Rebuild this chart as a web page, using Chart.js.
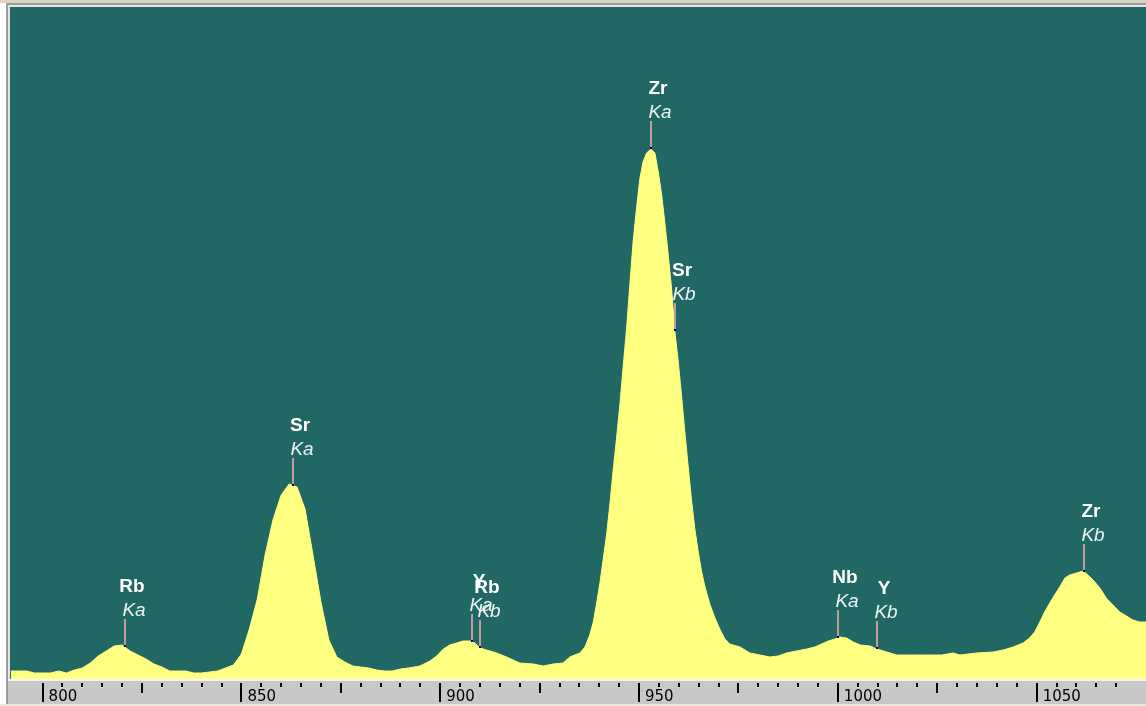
<!DOCTYPE html>
<html>
<head>
<meta charset="utf-8">
<script src="https://cdn.jsdelivr.net/npm/chart.js@4.4.0/dist/chart.umd.min.js"></script>
<style>
  html, body { margin: 0; padding: 0; background: #fff; overflow: hidden; }
  #spec { display: block; }
</style>
</head>
<body>
<canvas id="spec" width="1146" height="706"></canvas>
<script>
// Spectrum: channel position and counts
const energy = [
  792, 794, 796, 798, 800, 802, 804, 806, 808, 810,
  812, 814, 816, 818, 820, 822, 824, 826, 828, 830,
  832, 834, 836, 838, 840, 842, 844, 846, 848, 850,
  852, 854, 856, 858, 860, 862, 864, 866, 868, 870,
  872, 874, 876, 878, 880, 882, 884, 886, 888, 890,
  892, 894.9, 897.4, 899.1, 900.8, 902.4, 904.1, 905.8, 907.5, 908.7,
  910, 911.7, 914.2, 916.7, 920, 923.4, 925.9, 928.4, 930.9, 932.6,
  935.1, 936.4, 937.6, 938.5, 939.3, 940.2, 941, 941.9, 942.7, 943.5,
  944.4, 945.2, 946, 946.9, 947.7, 948.5, 949.4, 950.2, 951, 951.9,
  953, 954, 954.8, 955.7, 956.5, 957.3, 958.2, 959, 959.9, 960.7,
  961.5, 962.4, 963.2, 964, 964.9, 965.7, 966.6, 967.8, 969.1, 970.3,
  971.6, 972.8, 975.4, 977.9, 980.4, 982.9, 985, 987.1, 989.6, 992.2,
  994.2, 995.9, 997.6, 999.3, 1000.5, 1002.2, 1003.9, 1005.6, 1008.1, 1009.8,
  1012.3, 1014.8, 1018.2, 1022.3, 1026.1, 1029, 1030.7, 1034.9, 1039.1, 1041.6,
  1044.1, 1046.6, 1048.2, 1049.5, 1050.8, 1052, 1053.3, 1054.5, 1055.8, 1057.1,
  1058.3, 1060, 1061.7, 1062.9, 1064.2, 1065.9, 1067.5, 1069.2, 1070.9, 1072.6,
  1074.2, 1075.9, 1077.5
];
const counts = [
  8, 8, 8, 6, 6, 6, 8, 6, 9, 11,
  16, 23, 28, 33, 34, 28, 24, 20, 15, 12,
  8, 8, 8, 6, 6, 7, 8, 11, 14, 25,
  50, 80, 125, 160, 184, 195, 192, 170, 124, 77,
  39, 22, 17, 13, 12, 11, 9, 8, 8, 10,
  11, 13, 18, 23, 30, 34, 36, 38, 38, 36,
  31, 29, 26, 22, 16, 15, 13, 15, 16, 22,
  26, 32, 44, 57, 75, 97, 120, 146, 176, 209,
  243, 275, 312, 352, 395, 437, 472, 500, 517, 526,
  530, 526, 508, 484, 456, 426, 390, 348, 316, 283,
  248, 211, 179, 151, 127, 108, 92, 75, 61, 50,
  40, 35, 32, 26, 24, 22, 23, 26, 28, 30,
  32, 35, 38, 40, 42, 41, 37, 34, 33, 30,
  27, 24, 24, 24, 24, 26, 24, 26, 27, 29,
  32, 36, 41, 47, 57, 67, 76, 84, 92, 101,
  104, 106, 108, 104, 99, 91, 81, 74, 67, 63,
  59, 57, 57
];

// Axis labels
const tickLabels = [800, 850, 900, 950, 1000, 1050];

// Identified lines
const peakElements = ['Rb', 'Sr', 'Y', 'Rb', 'Zr', 'Sr', 'Nb', 'Y', 'Zr'];
const peakLines = ['Ka', 'Ka', 'Ka', 'Kb', 'Ka', 'Kb', 'Ka', 'Kb', 'Kb'];
const peakEnergy = [820.8, 863.0, 907.9, 909.9, 953.0, 959.0, 1000.1, 1009.9, 1061.9];

function countAt(e) {
    for (let i = 1; i < energy.length; i++) {
        if (energy[i] >= e) {
            const t = (e - energy[i - 1]) / (energy[i] - energy[i - 1]);
            return counts[i - 1] + t * (counts[i] - counts[i - 1]);
        }
    }
    return counts[counts.length - 1];
}

// Window frame, plot background and axis strip
const frame = {
    id: 'frame',
    beforeDraw(chart) {
        const ctx = chart.ctx, a = chart.chartArea, W = chart.width, H = chart.height;
        ctx.save();
        ctx.fillStyle = '#ffffff';
        ctx.fillRect(0, 0, W, H);
        ctx.fillStyle = '#d8d4c2';
        ctx.fillRect(0, 0, W, 3);
        ctx.fillStyle = '#9c9c9c';
        ctx.fillRect(6, 3, W - 6, 2);
        ctx.fillRect(6, 3, 2, H - 3);
        ctx.fillStyle = '#e6e6e6';
        ctx.fillRect(8, 5, W - 8, 2);
        ctx.fillRect(8, 5, 2, H - 5);
        ctx.fillStyle = '#216864';
        ctx.fillRect(a.left, a.top, a.right - a.left, a.bottom - a.top);
        ctx.fillStyle = '#f6f6f6';
        ctx.fillRect(8, a.bottom, W - 8, 2);
        ctx.fillStyle = '#c8c8c8';
        ctx.fillRect(8, a.bottom + 2, W - 8, 23);
        ctx.fillStyle = '#ece9d8';
        ctx.fillRect(0, a.bottom + 25, W, H - a.bottom - 25);
        ctx.restore();
    }
};

// Tick marks of three lengths on the x axis
const axisTicks = {
    id: 'axisTicks',
    afterDraw(chart) {
        const xs = chart.scales.x, ctx = chart.ctx, top = chart.chartArea.bottom + 4;
        ctx.save();
        ctx.fillStyle = '#000000';
        xs.ticks.forEach(t => {
            if (t.value % 5 !== 0) return;
            const px = Math.round(xs.getPixelForValue(t.value));
            const len = t.value % 50 === 0 ? 19 : (t.value % 25 === 0 ? 10 : 4);
            ctx.fillRect(px - 1, top, 2, len);
        });
        ctx.restore();
    }
};

// Peak markers with element and line name
const peakMarks = {
    id: 'peakMarks',
    afterDatasetsDraw(chart) {
        const ctx = chart.ctx, xs = chart.scales.x, ys = chart.scales.y;
        ctx.save();
        peakEnergy.forEach((e, i) => {
            const px = Math.round(xs.getPixelForValue(e));
            const py = Math.round(ys.getPixelForValue(countAt(e)));
            const top = py - 28;
            ctx.fillStyle = '#c49a9a';
            ctx.fillRect(px - 1, top, 2, py - top);
            ctx.fillStyle = '#000080';
            ctx.fillRect(px - 1, py - 2, 2, 2);
            ctx.textAlign = 'center';
            ctx.textBaseline = 'alphabetic';
            ctx.fillStyle = '#ffffff';
            ctx.font = 'bold 19px "Liberation Sans", Arial, sans-serif';
            ctx.fillText(peakElements[i], px + 7, top - 27);
            ctx.fillStyle = '#eef4f4';
            ctx.font = 'italic 19px "Liberation Sans", Arial, sans-serif';
            ctx.fillText(peakLines[i], px + 9, top - 3);
        });
        ctx.restore();
    }
};

new Chart(document.getElementById('spec'), {
    type: 'line',
    data: {
        datasets: [{
            data: energy.map((e, i) => ({ x: e, y: counts[i] })),
            fill: 'origin',
            backgroundColor: '#ffff80',
            borderColor: '#ffff80',
            borderWidth: 1,
            pointRadius: 0,
            tension: 0
        }]
    },
    options: {
        responsive: false,
        animation: false,
        devicePixelRatio: 1,
        layout: { padding: { left: 10, top: 7, right: 0, bottom: 0 } },
        plugins: {
            legend: { display: false },
            tooltip: { enabled: false }
        },
        scales: {
            x: {
                type: 'linear',
                min: 791.8,
                max: 1077.5,
                afterFit(s) {
                    s.height = 27;
                    s.paddingLeft = 0;
                    s.paddingRight = 0;
                },
                border: { display: false },
                grid: {
                    drawOnChartArea: false,
                    drawTicks: true,
                    tickLength: 4,
                    tickColor: 'rgba(0,0,0,0)'
                },
                ticks: {
                    stepSize: 5,
                    autoSkip: false,
                    maxRotation: 0,
                    align: 'start',
                    labelOffset: 6,
                    padding: 5,
                    color: '#000000',
                    font: { family: 'DejaVu Sans', size: 15 },
                    callback: v => tickLabels.includes(v) ? String(v) : ''
                }
            },
            y: { display: false, min: 0, max: 672 }
        }
    },
    plugins: [frame, axisTicks, peakMarks]
});
</script>
</body>
</html>
